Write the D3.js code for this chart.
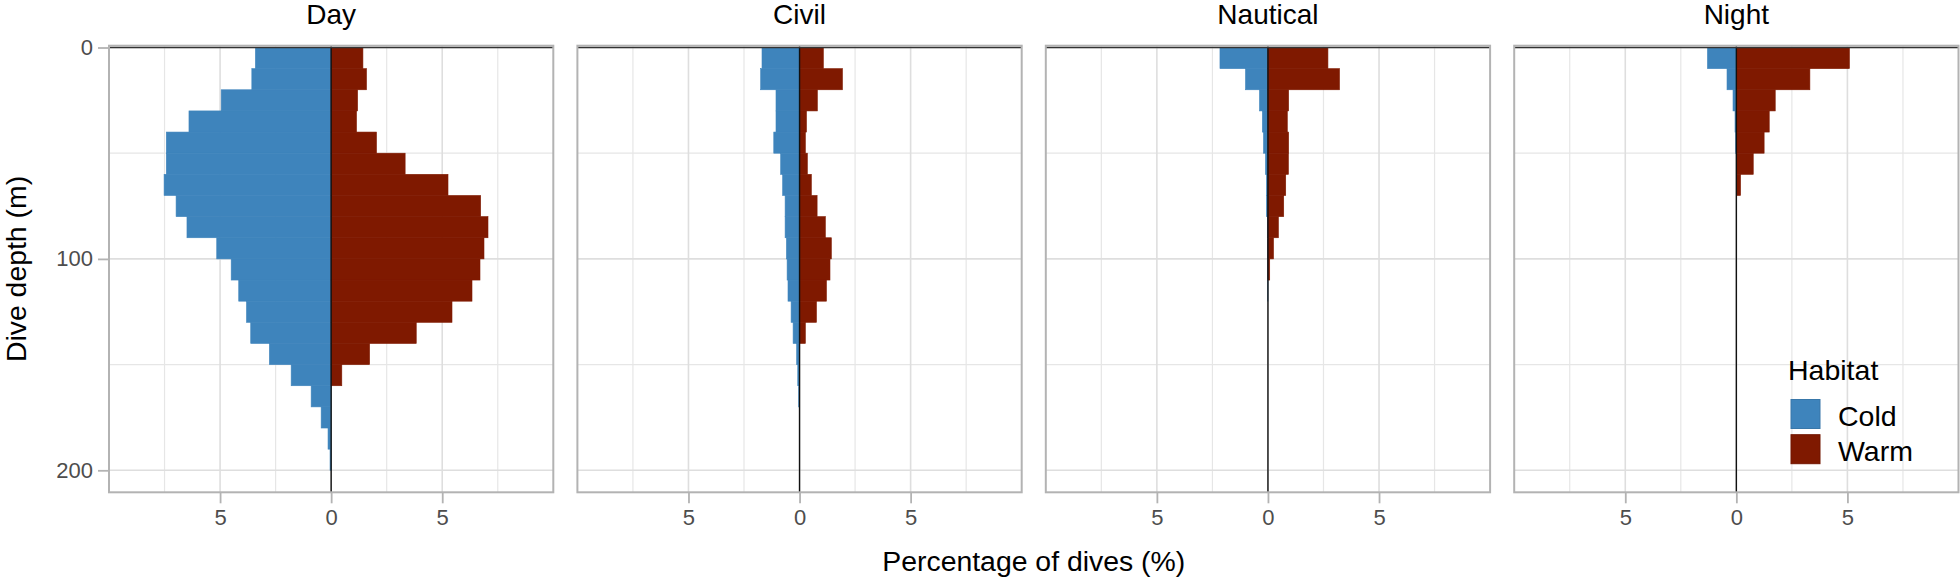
<!DOCTYPE html>
<html>
<head>
<meta charset="utf-8">
<script src="https://cdn.jsdelivr.net/npm/d3@7"></script>
<style>
  html, body { margin: 0; padding: 0; background: #fff; }
  svg { display: block; font-family: "Liberation Sans", Arial, sans-serif; }
</style>
</head>
<body>
<svg id="chart" width="1960" height="578"></svg>
<script>
// ---- data ----
const periods = ["Day", "Civil", "Nautical", "Night"];
const habitats = ["Cold", "Warm"];
const depthBins = [0,10,20,30,40,50,60,70,80,90,100,110,120,130,140,150,160,170,180,190];
const binWidth = 10;

const dayCold      = [3.41,3.57,4.95,6.40,7.42,7.42,7.52,6.98,6.49,5.15,4.50,4.16,3.81,3.62,2.78,1.80,0.90,0.45,0.14,0.05];
const dayWarm      = [1.43,1.59,1.19,1.14,2.04,3.33,5.26,6.73,7.06,6.88,6.70,6.34,5.44,3.83,1.73,0.48,0,0,0,0];
const civilCold    = [1.69,1.75,1.06,1.06,1.16,0.85,0.76,0.65,0.65,0.59,0.56,0.52,0.38,0.29,0.13,0.08,0.04,0,0,0];
const civilWarm    = [1.07,1.93,0.80,0.31,0.26,0.35,0.53,0.79,1.16,1.43,1.37,1.21,0.76,0.26,0,0,0,0,0,0];
const nauticalCold = [2.16,1.01,0.38,0.25,0.20,0.11,0.07,0.07,0.03,0.02,0.02,0.01,0,0,0,0,0,0,0,0];
const nauticalWarm = [2.70,3.22,0.93,0.87,0.93,0.92,0.80,0.71,0.47,0.25,0.08,0,0,0,0,0,0,0,0,0];
const nightCold    = [1.30,0.42,0.15,0.06,0.03,0,0,0,0,0,0,0,0,0,0,0,0,0,0,0];
const nightWarm    = [5.09,3.31,1.75,1.48,1.25,0.76,0.19,0,0,0,0,0,0,0,0,0,0,0,0,0];

const xTicks = [-5, 0, 5];
const xMinor = [-7.5, -2.5, 2.5, 7.5];
const yTicks = [0, 100, 200];
const yMinor = [50, 150];

const seriesByPeriod = {
  Day:      { Cold: dayCold,      Warm: dayWarm },
  Civil:    { Cold: civilCold,    Warm: civilWarm },
  Nautical: { Cold: nauticalCold, Warm: nauticalWarm },
  Night:    { Cold: nightCold,    Warm: nightWarm }
};

// ---- styles / layout ----
const colors = { Cold: "#3E84BC", Warm: "#7F1900" };
const panelLeft0 = 109, panelW = 444.3, panelStep = 468.4;
const panelTop = 45.7, panelBottom = 492.3;

const svg = d3.select("#chart");

const x = d3.scaleLinear().domain([-10, 10]).range([0, panelW]);
const y = d3.scaleLinear().domain([0, 200]).range([47.5, 470.3]);

periods.forEach((p, pi) => {
  const g = svg.append("g").attr("transform", `translate(${panelLeft0 + pi * panelStep},0)`);

  // gridlines
  g.selectAll(".vminor").data(xMinor).enter().append("line")
    .attr("x1", d => x(d)).attr("x2", d => x(d))
    .attr("y1", panelTop).attr("y2", panelBottom)
    .attr("stroke", "#e6e6e6").attr("stroke-width", 1.2);
  g.selectAll(".hminor").data(yMinor).enter().append("line")
    .attr("x1", 0).attr("x2", panelW)
    .attr("y1", d => y(d)).attr("y2", d => y(d))
    .attr("stroke", "#e6e6e6").attr("stroke-width", 1.2);
  g.selectAll(".vmajor").data(xTicks).enter().append("line")
    .attr("x1", d => x(d)).attr("x2", d => x(d))
    .attr("y1", panelTop).attr("y2", panelBottom)
    .attr("stroke", "#dedede").attr("stroke-width", 1.6);
  g.selectAll(".hmajor").data(yTicks).enter().append("line")
    .attr("x1", 0).attr("x2", panelW)
    .attr("y1", d => y(d)).attr("y2", d => y(d))
    .attr("stroke", "#dedede").attr("stroke-width", 1.6);

  // bars
  habitats.forEach(h => {
    const vals = seriesByPeriod[p][h];
    const data = depthBins.map((b, i) => ({ b, v: vals[i] })).filter(d => d.v > 0);
    g.selectAll(".bar-" + h).data(data).enter().append("rect")
      .attr("x", d => h === "Cold" ? x(-d.v) : x(0))
      .attr("width", d => h === "Cold" ? x(0) - x(-d.v) : x(d.v) - x(0))
      .attr("y", d => y(d.b))
      .attr("height", d => y(d.b + binWidth) - y(d.b))
      .attr("fill", colors[h])
      .attr("stroke", colors[h]).attr("stroke-width", 0.6);
  });

  // zero lines
  g.append("line").attr("x1", x(0)).attr("x2", x(0))
    .attr("y1", panelTop).attr("y2", panelBottom)
    .attr("stroke", "#111").attr("stroke-width", 1.4);
  g.append("line").attr("x1", 0).attr("x2", panelW)
    .attr("y1", y(0)).attr("y2", y(0))
    .attr("stroke", "#333").attr("stroke-width", 1.4);

  // panel border
  g.append("rect").attr("x", 0).attr("y", panelTop)
    .attr("width", panelW).attr("height", panelBottom - panelTop)
    .attr("fill", "none").attr("stroke", "#b3b3b3").attr("stroke-width", 2);

  // strip title
  g.append("text").attr("x", panelW / 2).attr("y", 23.5)
    .attr("text-anchor", "middle").attr("font-size", 28).attr("fill", "#000")
    .text(p);

  // x axis
  const xAxis = d3.axisBottom(x).tickValues(xTicks).tickSize(11).tickPadding(6)
    .tickFormat(d => Math.abs(d));
  const ax = g.append("g").attr("transform", `translate(0,${panelBottom})`).call(xAxis);
  ax.select(".domain").remove();
  ax.selectAll(".tick line").attr("stroke", "#b3b3b3").attr("stroke-width", 1.8);
  ax.selectAll(".tick text").attr("font-size", 22).attr("fill", "#4d4d4d")
    .attr("font-family", "Liberation Sans, Arial, sans-serif");

  // y axis on first panel
  if (pi === 0) {
    const yAxis = d3.axisLeft(y).tickValues(yTicks).tickSize(11).tickPadding(5);
    const ay = g.append("g").call(yAxis);
    ay.select(".domain").remove();
    ay.selectAll(".tick line").attr("stroke", "#b3b3b3").attr("stroke-width", 1.8);
    ay.selectAll(".tick text").attr("font-size", 22).attr("fill", "#4d4d4d")
      .attr("font-family", "Liberation Sans, Arial, sans-serif");
  }
});

// axis titles
svg.append("text").attr("x", (panelLeft0 + panelLeft0 + 3 * panelStep + panelW) / 2).attr("y", 570.5)
  .attr("text-anchor", "middle").attr("font-size", 28.4).attr("fill", "#000")
  .text("Percentage of dives (%)");
svg.append("text")
  .attr("transform", `translate(26,${(panelTop + panelBottom) / 2}) rotate(-90)`)
  .attr("text-anchor", "middle").attr("font-size", 28.4).attr("fill", "#000")
  .text("Dive depth (m)");

// legend
const lg = svg.append("g").attr("transform", "translate(1788,0)");
lg.append("text").attr("x", 0).attr("y", 380).attr("font-size", 28.5).attr("fill", "#000").text("Habitat");
habitats.forEach((h, i) => {
  lg.append("rect").attr("x", 3).attr("y", 399.5 + i * 35.2).attr("width", 29).attr("height", 29)
    .attr("fill", colors[h]).attr("stroke", d3.color(colors[h]).darker(0.3)).attr("stroke-width", 1);
  lg.append("text").attr("x", 50).attr("y", 425.5 + i * 35.2).attr("font-size", 28.5).attr("fill", "#000").text(h);
});
</script>
</body>
</html>
